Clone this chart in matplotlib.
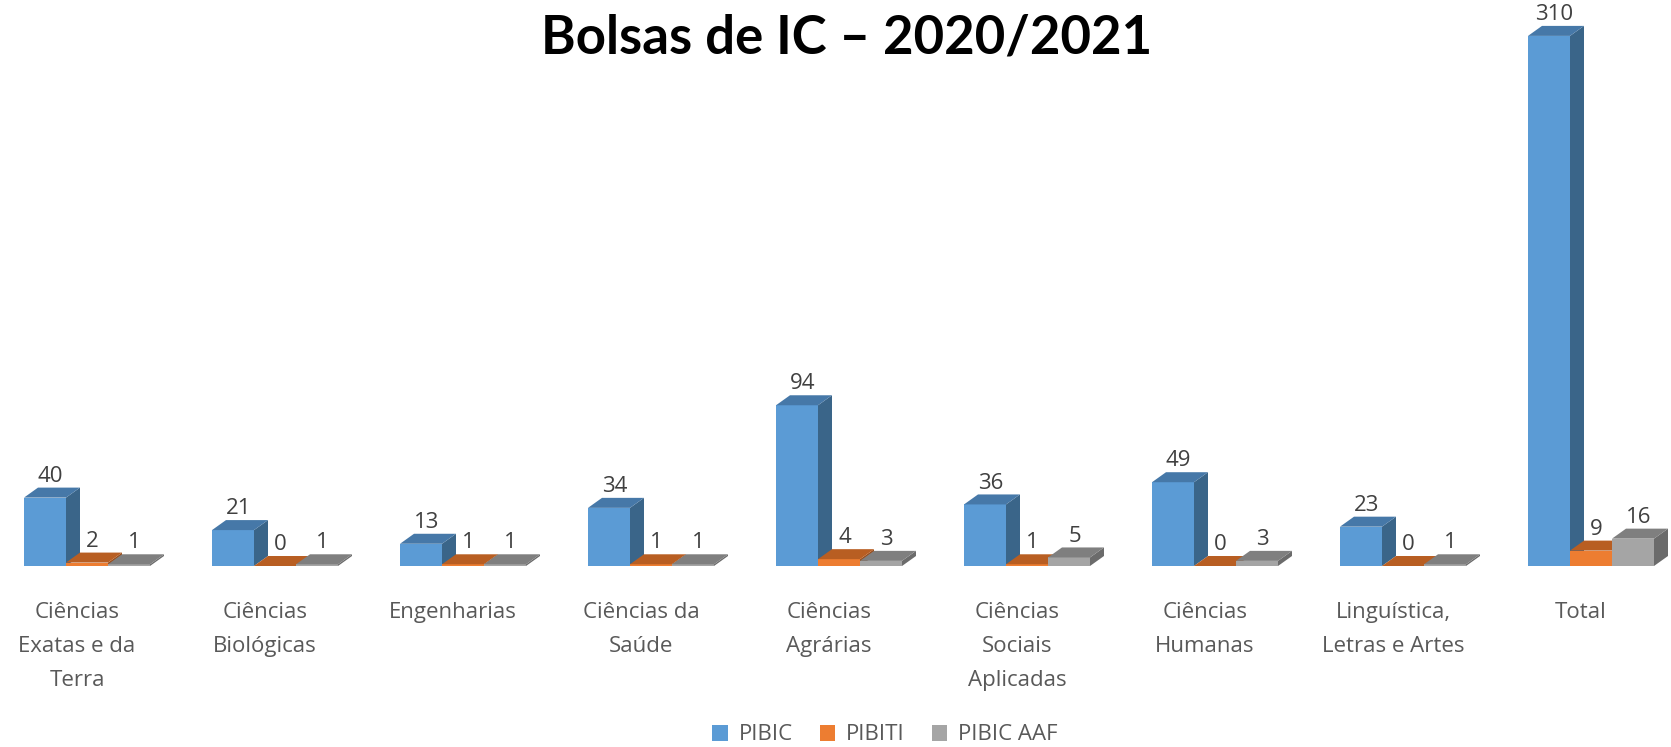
import matplotlib
matplotlib.use("Agg")
import matplotlib.pyplot as plt
from matplotlib.patches import Polygon, Patch

categories = ["Ciências\nExatas e da\nTerra", "Ciências\nBiológicas", "Engenharias",
              "Ciências da\nSaúde", "Ciências\nAgrárias", "Ciências\nSociais\nAplicadas",
              "Ciências\nHumanas", "Linguística,\nLetras e Artes", "Total"]
pibic = [40, 21, 13, 34, 94, 36, 49, 23, 310]
pibiti = [2, 0, 1, 1, 4, 1, 0, 0, 9]
pibic_aaf = [1, 1, 1, 1, 3, 5, 3, 1, 16]
series_names = ["PIBIC", "PIBITI", "PIBIC AAF"]

front = ["#5B9BD5", "#ED7D31", "#A5A5A5"]
top = ["#4678A8", "#B85E22", "#7F7F7F"]
side = ["#3A6589", "#9A4E1C", "#6B6B6B"]

plt.rcParams['font.family'] = ['Open Sans', 'DejaVu Sans']

W, H = 1671, 747
fig = plt.figure(figsize=(W / 100, H / 100), dpi=100)
ax = fig.add_axes([0, 0, 1, 1])
ax.set_axis_off()

px_x = 188.0        # pixels per category
px_y = 1.71         # pixels per unit
base_px = 566.0     # baseline from top
x0_px = 87.0        # first group centre
ax.set_xlim(-x0_px / px_x, (W - x0_px) / px_x)
ax.set_ylim(-(H - base_px) / px_y, base_px / px_y)

bw = 42 / px_x
dx = 14 / px_x
dy = 10 / px_y

data = [pibic, pibiti, pibic_aaf]
z = 2
for i in range(len(categories)):
    for s in range(3):
        h = data[s][i]
        xl = i + (s - 1) * bw - bw / 2
        xr = xl + bw
        ax.bar(xl + bw / 2, h, width=bw, color=front[s], zorder=z, linewidth=0)
        ax.add_patch(Polygon([(xr, 0), (xr + dx, dy), (xr + dx, h + dy), (xr, h)],
                             closed=True, facecolor=side[s], edgecolor='none', zorder=z))
        ax.add_patch(Polygon([(xl, h), (xr, h), (xr + dx, h + dy), (xl + dx, h + dy)],
                             closed=True, facecolor=top[s], edgecolor='none', zorder=z))
        ax.text(xl + bw / 2 + dx * 0.4, h + dy + 0.5, str(h), ha='center', va='bottom',
                fontsize=16, color='#404040', zorder=20)
        z += 1
    ax.text(i - 10 / px_x, -21, categories[i], ha='center', va='top', fontsize=16,
            color='#595959', linespacing=1.8)

fig.text(847 / W, 1 - 38 / H, "Bolsas de IC – 2020/2021", ha='center', va='center',
         fontsize=38, fontweight='bold', color='black', family=['Lato', 'DejaVu Sans'])

handles = [Patch(facecolor=front[s], edgecolor='none', label=series_names[s]) for s in range(3)]
fig.legend(handles=handles, loc='center', bbox_to_anchor=(885 / W, 1 - 735 / H), ncol=3,
           frameon=False, fontsize=16, labelcolor='#595959', handlelength=0.7,
           handleheight=0.7, handletextpad=0.5, columnspacing=1.2)

fig.savefig("out.png", dpi=100)
